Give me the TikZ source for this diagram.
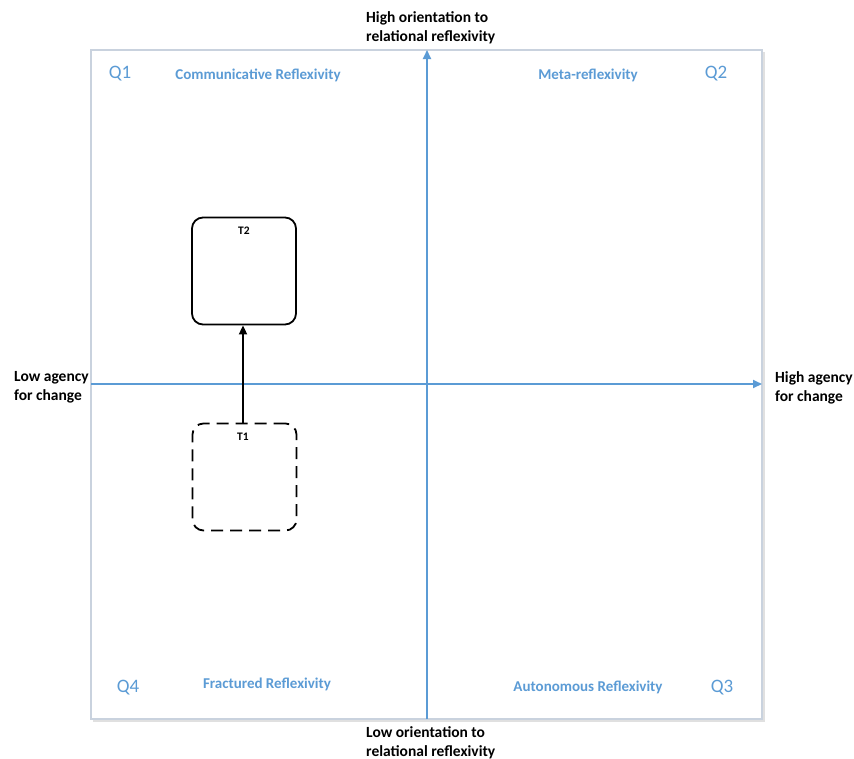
\documentclass[tikz,border=0pt]{standalone}
\usepackage{fontspec}
\setmainfont{Carlito}
\usetikzlibrary{arrows.meta}
\definecolor{axisblue}{HTML}{5B9BD5}
\definecolor{framegrey}{HTML}{C9D2DE}
\begin{document}
\begin{tikzpicture}[x=1pt,y=-1pt,
  axis/.style={draw=axisblue,line width=1.8pt,-{Triangle[length=9pt,width=8pt]}},
  axislabel/.style={font=\bfseries\fontsize{15.5}{19.5}\selectfont,align=left,anchor=north west,inner sep=0pt,text=black},
  qlabel/.style={font=\fontsize{19}{21}\selectfont,text=axisblue,inner sep=0pt},
  qtitle/.style={font=\bfseries\fontsize{15}{17}\selectfont,text=axisblue,inner sep=0pt},
  tbox/.style={draw=black,line width=1.8pt,rounded corners=11pt,minimum width=104pt,minimum height=107pt,inner sep=0pt},
  tlabel/.style={font=\bfseries\fontsize{11.5}{12}\selectfont,inner sep=0pt}]
\useasboundingbox (0,0) rectangle (854,758);
% frame with a faint shadow
\draw[black!12,line width=1.5pt] (93,721) -- (764,721) -- (764,52);
\draw[framegrey,line width=1.2pt,fill=white] (91,50) rectangle (762,719);
% end points of the axes
\coordinate (vbot) at (427,719);
\coordinate (vtop) at (427,50);
\coordinate (hleft) at (91,384);
\coordinate (hright) at (762,384);
\draw[axis] (vbot) -- (vtop);
\draw[axis] (hleft) -- (hright);
% axis labels
\node[axislabel] (top) at (366,11) {High orientation to\\relational reflexivity};
\node[axislabel] (bottom) at (366,726) {Low orientation to\\relational reflexivity};
\node[axislabel] (left) at (14,371) {Low agency\\for change};
\node[axislabel] (right) at (775,371) {High agency\\for change};
% quadrants
\node[qlabel] (q1) at (120,74) {Q1};
\node[qlabel] (q2) at (716,74) {Q2};
\node[qlabel] (q4) at (128,688) {Q4};
\node[qlabel] (q3) at (722,688) {Q3};
\node[qtitle] (comm) at (258,75) {Communicative Reflexivity};
\node[qtitle] (meta) at (588,75) {Meta-reflexivity};
\node[qtitle] (frac) at (267,684) {Fractured Reflexivity};
\node[qtitle] (auto) at (588,687) {Autonomous Reflexivity};
% time points
\node[tbox] (t2) at (244,271) {};
\node[tbox,dashed,dash pattern=on 12pt off 7pt] (t1) at (244.5,477) {};
\node[tlabel] at (244,231) {T2};
\node[tlabel] at (243,437) {T1};
\draw[line width=1.8pt,-{Triangle[length=9pt,width=8pt]}] (t1.north -| 243,0) -- (t2.south -| 243,0);
\end{tikzpicture}
\end{document}
